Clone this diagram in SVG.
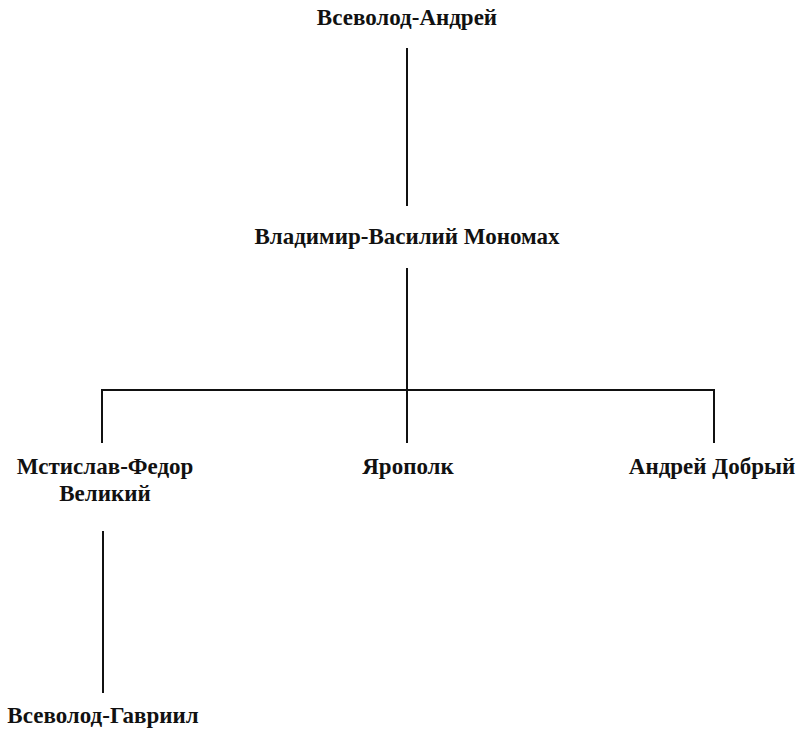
<svg xmlns="http://www.w3.org/2000/svg" width="804" height="732" viewBox="0 0 804 732">
<style>
text{font-family:'Liberation Serif','DejaVu Serif',serif;font-weight:700;font-size:23px;fill:#111;text-anchor:middle}
.c{stroke:#111;stroke-width:2;fill:none}
</style>
<rect width="804" height="732" fill="#fff"/>
<g id="connectors">
<line class="c" x1="407" y1="48" x2="407" y2="206"/>
<line class="c" x1="407" y1="268" x2="407" y2="443"/>
<polyline class="c" points="102,443 102,390 714,390 714,443"/>
<line class="c" x1="103" y1="531" x2="103" y2="693"/>
</g>
<g id="vsevolod-andrey"><text x="407" y="25">Всеволод-Андрей</text></g>
<g id="vladimir"><text x="407" y="244">Владимир-Василий Мономах</text></g>
<g id="mstislav"><text x="105" y="474">Мстислав-Федор</text><text x="105" y="501">Великий</text></g>
<g id="yaropolk"><text x="408" y="474">Ярополк</text></g>
<g id="andrey-dobry"><text x="712" y="474">Андрей Добрый</text></g>
<g id="vsevolod-gavriil"><text x="103" y="723">Всеволод-Гавриил</text></g>
</svg>
